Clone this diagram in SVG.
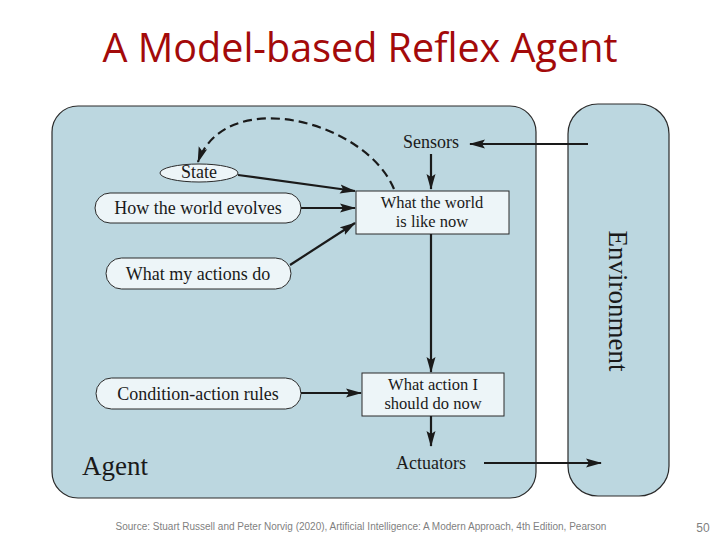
<svg xmlns="http://www.w3.org/2000/svg" width="720" height="540" viewBox="0 0 720 540">
<defs>
<marker id="ah" viewBox="0 0 16 10" refX="15" refY="5" markerWidth="16" markerHeight="10" markerUnits="userSpaceOnUse" orient="auto">
<path d="M0,0.5 L16,5 L0,9.5 L3,5 Z" fill="#1a1a1a"/>
</marker>
</defs>
<style>
.panel{fill:#bcd7e0;stroke:#2a2a2a;stroke-width:1.2}
.pill{fill:#edf5f8;stroke:#2a2a2a;stroke-width:1}
.box{fill:#edf5f8;stroke:#2a2a2a;stroke-width:1}
.t{font-family:"Liberation Serif","Times New Roman",serif;font-size:18px;fill:#1a1a1a;text-anchor:middle}
.b{font-size:16.5px}
.c{stroke:#1a1a1a;stroke-width:2.2;fill:none;marker-end:url(#ah)}
</style>
<rect width="720" height="540" fill="#ffffff"/>
<text x="360" y="62" font-family="'Open Sans','Liberation Sans',sans-serif" font-size="39.5" fill="#a30a0a" text-anchor="middle">A Model-based Reflex Agent</text>
<g id="agent">
<rect class="panel" x="52" y="106" width="484" height="392" rx="26" ry="26"/>
<text x="82" y="475" font-family="'Liberation Serif',serif" font-size="27" fill="#1a1a1a">Agent</text>
</g>
<g id="environment">
<rect class="panel" x="568" y="104" width="101" height="392" rx="30" ry="30"/>
<text x="0" y="0" transform="translate(609,301) rotate(90)" font-family="'Liberation Serif',serif" font-size="27" fill="#1a1a1a" text-anchor="middle">Environment</text>
</g>
<g id="state">
<ellipse class="pill" cx="199" cy="173" rx="39" ry="9"/>
<text class="t" x="199" y="178" font-size="16">State</text>
</g>
<g id="how-world-evolves">
<rect class="pill" x="95" y="193" width="206" height="30" rx="15"/>
<text class="t" x="198" y="214">How the world evolves</text>
</g>
<g id="what-actions-do">
<rect class="pill" x="106" y="258" width="185" height="31" rx="15.5"/>
<text class="t" x="198" y="280">What my actions do</text>
</g>
<g id="condition-action-rules">
<rect class="pill" x="96" y="378" width="205" height="31" rx="15.5"/>
<text class="t" x="198" y="400">Condition-action rules</text>
</g>
<g id="world-now">
<rect class="box" x="356" y="191" width="153" height="43"/>
<text class="t b" x="432" y="208">What the world</text>
<text class="t b" x="432" y="227">is like now</text>
</g>
<g id="action-now">
<rect class="box" x="362" y="373" width="142" height="43"/>
<text class="t b" x="433" y="390">What action I</text>
<text class="t b" x="433" y="409">should do now</text>
</g>
<g id="sensors">
<text class="t" x="431" y="148">Sensors</text>
</g>
<g id="actuators">
<text class="t" x="431" y="469">Actuators</text>
</g>
<g id="connectors">
<line class="c" x1="588" y1="144" x2="470" y2="144"/>
<line class="c" x1="431" y1="154" x2="431" y2="189"/>
<line class="c" x1="431" y1="234" x2="431" y2="372"/>
<line class="c" x1="431" y1="416" x2="431" y2="446"/>
<line class="c" x1="484" y1="463" x2="601" y2="463"/>
<line class="c" x1="238" y1="175" x2="355" y2="191"/>
<line class="c" x1="301" y1="208" x2="355" y2="208"/>
<line class="c" x1="290" y1="265" x2="355" y2="223"/>
<line class="c" x1="301" y1="393" x2="361" y2="393"/>
<path class="c" d="M394 189 C365 120 225 85 198 162" stroke-dasharray="9 5"/>
</g>
<text x="361" y="530" font-family="'Liberation Sans',Arial,sans-serif" font-size="10" fill="#7f7f7f" text-anchor="middle">Source: Stuart Russell and Peter Norvig (2020), Artificial Intelligence: A Modern Approach, 4th Edition, Pearson</text>
<text x="703" y="532" font-family="'Liberation Sans',Arial,sans-serif" font-size="12" fill="#7f7f7f" text-anchor="middle">50</text>
</svg>
